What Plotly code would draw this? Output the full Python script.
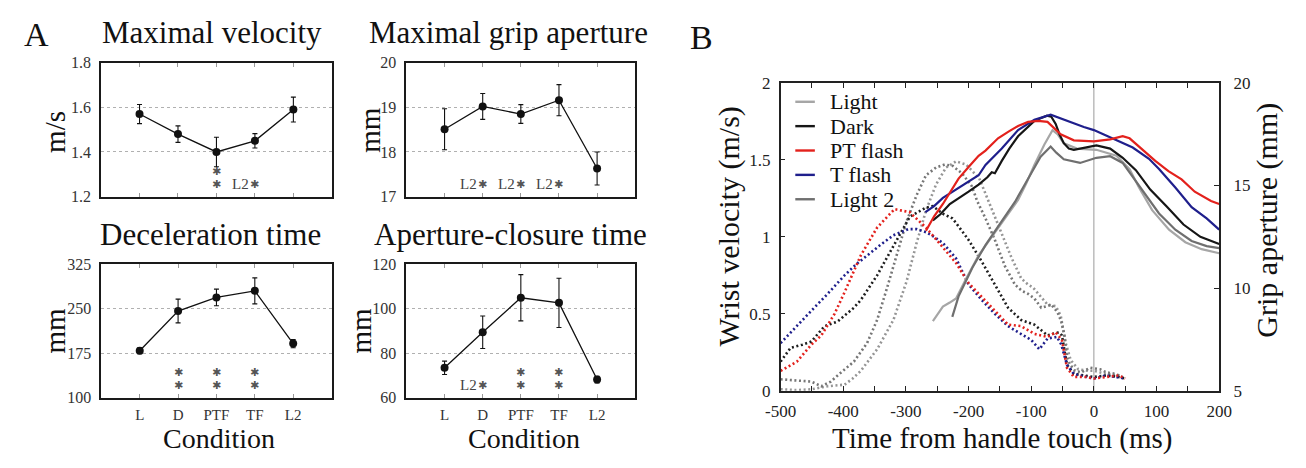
import plotly.graph_objects as go

W, H = 1306, 468
SERIF = "Liberation Serif, Times New Roman, serif"

# ---------------- Panel A: condition means with error bars ----------------
conditions = ["L", "D", "PTF", "TF", "L2"]
cond_pos = [1, 2, 3, 4, 5]

max_velocity = [1.57, 1.48, 1.40, 1.45, 1.59]
max_velocity_err = [0.043, 0.037, 0.066, 0.032, 0.056]
max_grip = [18.51, 19.02, 18.85, 19.16, 17.63]
max_grip_err = [0.46, 0.29, 0.21, 0.35, 0.37]
decel_time = [179, 246, 269, 280, 191]
decel_time_err = [5, 20, 14, 22, 7]
closure_time = [73.4, 89.4, 104.9, 102.6, 68.1]
closure_time_err = [3.0, 7.3, 10.4, 11.1, 1.5]

vel_ticks = [1.2, 1.4, 1.6, 1.8]
grip_ticks = [17, 18, 19, 20]
decel_ticks = [100, 175, 250, 325]
closure_ticks = [60, 80, 100, 120]

# ---------------- Panel B: time courses ----------------
time_ticks = [-500, -400, -300, -200, -100, 0, 100, 200]
vel_axis_ticks = [0, 0.5, 1, 1.5, 2]
aperture_ticks = [5, 10, 15, 20]

# wrist velocity (m/s), dotted
light_vel_t = [-500, -475, -451, -425, -398, -385, -372, -346, -320, -299, -283, -268, -252, -236,
               -220, -204, -183, -173, -163, -147, -131, -116, -105, -97, -89, -74, -61, -53, -45,
               -37, -25, -10, 0, 20, 40, 50]
light_vel = [0.01, 0.005, 0.01, 0.03, 0.04, 0.08, 0.13, 0.27, 0.46, 0.71, 0.96, 1.17, 1.34, 1.45,
             1.49, 1.47, 1.38, 1.28, 1.19, 1.02, 0.86, 0.73, 0.69, 0.67, 0.63, 0.56, 0.55, 0.49, 0.31,
             0.2, 0.14, 0.13, 0.13, 0.11, 0.10, 0.07]
dark_vel_t = [-500, -484, -465, -451, -430, -409, -383, -372, -346, -320, -294, -268, -257, -241,
              -226, -220, -200, -179, -158, -137, -116, -95, -74, -56, -51, -43, -32, -12, 0, 20, 40, 50]
dark_vel = [0.19, 0.28, 0.30, 0.32, 0.42, 0.45, 0.54, 0.59, 0.75, 0.94, 1.13, 1.19, 1.2, 1.15,
            1.12, 1.09, 0.98, 0.84, 0.69, 0.54, 0.46, 0.43, 0.36, 0.38, 0.36, 0.17, 0.11, 0.10, 0.09,
            0.10, 0.09, 0.08]
pt_vel_t = [-500, -474, -451, -435, -414, -398, -372, -346, -330, -318, -294, -268, -247, -220,
            -200, -179, -158, -137, -116, -95, -74, -61, -51, -43, -32, -12, 0, 20, 40, 50]
pt_vel = [0.13, 0.19, 0.30, 0.36, 0.50, 0.64, 0.88, 1.06, 1.13, 1.18, 1.16, 1.06, 0.96, 0.83,
          0.70, 0.61, 0.52, 0.43, 0.42, 0.37, 0.35, 0.38, 0.33, 0.15, 0.09, 0.09, 0.08, 0.09, 0.10, 0.08]
t_vel_t = [-500, -475, -451, -425, -398, -380, -362, -340, -320, -296, -283, -268, -255, -241, -220,
           -200, -179, -158, -137, -116, -100, -87, -74, -59, -52, -43, -32, -12, 0, 20, 35, 50]
t_vel = [0.31, 0.42, 0.52, 0.63, 0.75, 0.82, 0.88, 0.95, 1.01, 1.05, 1.05, 1.03, 1.0, 0.96, 0.86,
         0.69, 0.59, 0.50, 0.42, 0.37, 0.33, 0.27, 0.34, 0.35, 0.30, 0.17, 0.11, 0.09, 0.08, 0.10,
         0.09, 0.08]
light2_vel_t = [-500, -475, -451, -435, -420, -409, -383, -362, -346, -330, -315, -299, -283, -268,
                -252, -238, -225, -210, -195, -186, -173, -158, -142, -126, -115, -105, -95, -84,
                -75, -68, -58, -52, -47, -43, -38, -30, -20, -6, 10, 20, 35, 50]
light2_vel = [0.075, 0.065, 0.06, 0.03, 0.06, 0.10, 0.19, 0.31, 0.46, 0.67, 0.88, 1.10, 1.27, 1.40,
              1.45, 1.47, 1.46, 1.41, 1.33, 1.23, 1.12, 0.98, 0.81, 0.69, 0.65, 0.63, 0.60, 0.54,
              0.55, 0.56, 0.51, 0.45, 0.36, 0.22, 0.17, 0.13, 0.12, 0.15, 0.14, 0.12, 0.11, 0.08]

# grip aperture (mm), solid
light_ap_t = [-257, -248, -241, -230, -220, -205, -184, -163, -147, -121, -108, -95, -79, -66, -58,
              -48, -27, 4, 36, 57, 72, 93, 120, 146, 172, 200]
light_ap = [8.4, 8.8, 9.1, 9.3, 9.5, 10.4, 11.6, 12.5, 13.2, 14.3, 15.1, 16.0, 17.0, 17.7, 17.5,
            17.06, 16.8, 16.74, 16.45, 15.8, 14.9, 13.8, 12.85, 12.24, 11.9, 11.7]
dark_ap_t = [-257, -245, -230, -216, -200, -184, -170, -163, -158, -147, -135, -121, -108, -95, -75,
             -68, -61, -55, -48, -40, -32, -16, 4, 26, 46, 67, 90, 117, 143, 170, 200]
dark_ap = [13.3, 13.6, 14.1, 14.4, 14.7, 15.04, 15.4, 15.65, 15.6, 16.2, 16.8, 17.4, 17.8, 18.15, 18.4,
           18.35, 18.0, 17.5, 17.06, 16.8, 16.74, 16.82, 16.95, 16.8, 16.35, 15.75, 14.8, 13.95, 13.1,
           12.5, 12.15]
pt_ap_t = [-268, -255, -241, -216, -200, -184, -173, -153, -135, -121, -105, -89, -74, -63, -53, -32,
           0, 26, 46, 57, 72, 98, 119, 140, 161, 187, 200]
pt_ap = [12.8, 13.5, 14.1, 15.34, 15.9, 16.45, 16.7, 17.3, 17.65, 17.9, 18.1, 18.15, 18.1, 17.8, 17.5,
         17.2, 17.15, 17.25, 17.4, 17.3, 16.9, 16.2, 15.7, 15.3, 14.7, 14.25, 14.1]
t_ap_t = [-269, -255, -241, -216, -200, -184, -173, -160, -147, -121, -95, -69, -48, -16, 0, 15, 36,
          62, 88, 104, 130, 156, 180, 200]
t_ap = [13.7, 14.0, 14.4, 14.87, 15.2, 15.5, 16.0, 16.4, 16.8, 17.7, 18.2, 18.45, 18.2, 17.85, 17.7,
        17.5, 17.2, 16.85, 16.3, 15.8, 14.9, 13.95, 13.4, 12.85]
light2_ap_t = [-226, -216, -194, -173, -153, -126, -100, -85, -69, -60, -48, -22, 4, 26, 46, 67, 83,
               104, 130, 156, 180, 200]
light2_ap = [8.6, 9.6, 11.0, 12.1, 13.0, 14.2, 15.6, 16.4, 16.9, 16.6, 16.28, 16.1, 16.35, 16.43, 16.1,
             15.2, 14.5, 13.64, 12.85, 12.3, 12.05, 11.95]

series_names = ["Light", "Dark", "PT flash", "T flash", "Light 2"]
series_colors = ["#a6a6a6", "#161616", "#e3211c", "#1f1f8c", "#6f6f6f"]
dotted_colors = ["#959595", "#1e1e1e", "#e3211c", "#1f1f8c", "#767676"]


def fx(x):
    return x / W


def fy(y):
    return 1 - y / H


fig = go.Figure()
annotations = []
shapes = []

panels = [
    dict(title="Maximal velocity", ytitle="m/s", vals=max_velocity, errs=max_velocity_err,
         ticks=vel_ticks, xcol=(87, 323), yrow=(56, 195.5), title_xy=(200, 25), ytitle_xy=(40, 128),
         marks=[(3, "**"), (4, "L2*")], xlabels=False),
    dict(title="Maximal grip aperture", ytitle="mm", vals=max_grip, errs=max_grip_err,
         ticks=grip_ticks, xcol=(399.3, 633.3), yrow=(56, 195.5), title_xy=(504, 25),
         ytitle_xy=(362, 126), marks=[(2, "L2*"), (3, "L2*"), (4, "L2*")], xlabels=False),
    dict(title="Deceleration time", ytitle="mm", vals=decel_time, errs=decel_time_err,
         ticks=decel_ticks, xcol=(87.3, 322.7), yrow=(266, 405), title_xy=(199, 235),
         ytitle_xy=(40, 335), marks=[(2, "**"), (3, "**"), (4, "**")], xlabels=True),
    dict(title="Aperture-closure time", ytitle="mm", vals=closure_time, errs=closure_time_err,
         ticks=closure_ticks, xcol=(399.3, 633.3), yrow=(266, 405), title_xy=(506, 235),
         ytitle_xy=(353, 335), marks=[(2, "L2*"), (3, "**"), (4, "**")], xlabels=True),
]

layout_axes = {}
STAR = "\u2731"
for i, p in enumerate(panels, start=1):
    k = "" if i == 1 else str(i)
    fig.add_trace(go.Scatter(
        x=cond_pos, y=p["vals"], mode="lines+markers",
        error_y=dict(type="data", array=p["errs"], color="#111", thickness=1.1, width=2.5),
        line=dict(color="#111", width=1.3), marker=dict(color="#111", size=8),
        xaxis="x" + k, yaxis="y" + k, cliponaxis=False, hoverinfo="skip"))
    xaxis = dict(
        domain=[fx(p["xcol"][0]), fx(p["xcol"][1])], range=[0, 6], anchor="y" + k,
        tickvals=cond_pos, ticks="inside", ticklen=4, tickcolor="#999", mirror="ticks",
        showline=True, linecolor="#1a1a1a", linewidth=1.8, showgrid=False, zeroline=False,
        tickfont=dict(family=SERIF, size=15, color="#333"), ticklabelstandoff=3)
    if p["xlabels"]:
        xaxis["ticktext"] = conditions
    else:
        xaxis["showticklabels"] = False
    layout_axes["xaxis" + k] = xaxis
    layout_axes["yaxis" + k] = dict(
        domain=[fy(p["yrow"][1]), fy(p["yrow"][0])], range=[p["ticks"][0], p["ticks"][-1]],
        anchor="x" + k, tickvals=p["ticks"], ticks="", showline=True, mirror=True,
        linecolor="#1a1a1a", linewidth=1.8, showgrid=True, gridcolor="#b0b0b0", griddash="dot",
        gridwidth=1, zeroline=False, tickfont=dict(family=SERIF, size=16, color="#333"),
        ticklabelstandoff=5)
    annotations.append(dict(text=p["title"], x=fx(p["title_xy"][0]), y=fy(p["title_xy"][1]),
                            xref="paper", yref="paper", showarrow=False, xanchor="center",
                            yanchor="middle", font=dict(family=SERIF, size=31, color="#111")))
    annotations.append(dict(text=p["ytitle"], x=fx(p["ytitle_xy"][0]), y=fy(p["ytitle_xy"][1]),
                            xref="paper", yref="paper", showarrow=False, textangle=-90,
                            xanchor="center", yanchor="middle",
                            font=dict(family=SERIF, size=29, color="#111")))
    # significance marks: stacked asterisks, or "L2*" for a difference from L2
    for cat, kind in p["marks"]:
        rows = [0.185, 0.091] if kind == "**" else [0.091]
        for r in rows:
            annotations.append(dict(text=STAR, x=cat, y=r, xref="x" + k, yref="y" + k + " domain",
                                    showarrow=False, xanchor="center", yanchor="middle",
                                    borderpad=0,
                                    font=dict(family="DejaVu Sans", size=11, color="#555")))
        if kind == "L2*":
            annotations.append(dict(text="L2", x=cat, y=0.091, xref="x" + k,
                                    yref="y" + k + " domain", showarrow=False, xanchor="right",
                                    yanchor="middle", xshift=-5, borderpad=0,
                                    font=dict(family=SERIF, size=15, color="#444")))
    if p["xlabels"]:
        annotations.append(dict(text="Condition", x=fx(208 if i == 3 else 520), y=fy(448),
                                xref="paper", yref="paper", showarrow=False,
                                xanchor="center", yanchor="middle",
                                font=dict(family=SERIF, size=28, color="#111")))

# panel letters
for letter, (lx, ly) in [("A", (21, 27)), ("B", (701, 30))]:
    annotations.append(dict(text=letter, x=fx(lx), y=fy(ly), xref="paper", yref="paper",
                            showarrow=False, xanchor="center", yanchor="middle",
                            font=dict(family=SERIF, size=34, color="#111")))

# ---------------- Panel B traces ----------------
vel_series = [(light_vel_t, light_vel), (dark_vel_t, dark_vel), (pt_vel_t, pt_vel),
              (t_vel_t, t_vel), (light2_vel_t, light2_vel)]
ap_series = [(light_ap_t, light_ap), (dark_ap_t, dark_ap), (pt_ap_t, pt_ap),
             (t_ap_t, t_ap), (light2_ap_t, light2_ap)]

for idx in [0, 4, 1, 3, 2]:
    t, v = vel_series[idx]
    fig.add_trace(go.Scatter(x=t, y=v, mode="lines", name=series_names[idx],
                             line=dict(color=dotted_colors[idx], width=2.6, dash="2px,2.6px"),
                             xaxis="x5", yaxis="y5", hoverinfo="skip"))
for idx in [0, 4, 1, 3, 2]:
    t, v = ap_series[idx]
    fig.add_trace(go.Scatter(x=t, y=v, mode="lines", name=series_names[idx],
                             line=dict(color=series_colors[idx], width=2.2),
                             xaxis="x5", yaxis="y6", hoverinfo="skip"))

# labelled ticks every 100 ms, minor ticks in between
layout_axes["xaxis5"] = dict(
    domain=[fx(782), fx(1230.5)], range=[-500, 200], anchor="y5",
    tickvals=time_ticks, ticktext=[str(t) for t in time_ticks],
    ticks="inside", ticklen=5, tickcolor="#222", mirror="ticks", showline=True,
    minor=dict(tick0=-450, dtick=100, ticks="inside", ticklen=5, tickcolor="#222", showgrid=False),
    linecolor="#222", linewidth=1.6, showgrid=False, zeroline=False,
    tickfont=dict(family=SERIF, size=17, color="#222"), ticklabelstandoff=4)
layout_axes["yaxis5"] = dict(
    domain=[fy(398), fy(77)], range=[0, 2], anchor="x5", tickvals=vel_axis_ticks,
    ticktext=["0", "0.5", "1", "1.5", "2"], ticks="inside", ticklen=5, tickcolor="#222",
    showline=True, linecolor="#222", linewidth=1.6, showgrid=False, zeroline=False,
    tickfont=dict(family=SERIF, size=17, color="#222"), ticklabelstandoff=5)
layout_axes["yaxis6"] = dict(
    overlaying="y5", side="right", range=[5, 20], anchor="x5", tickvals=aperture_ticks,
    ticks="inside", ticklen=5, tickcolor="#222", showline=True, linecolor="#222",
    linewidth=1.6, showgrid=False, zeroline=False,
    tickfont=dict(family=SERIF, size=17, color="#222"), ticklabelstandoff=9)

shapes.append(dict(type="line", xref="x5", yref="y5 domain", x0=0, x1=0, y0=0, y1=1,
                   line=dict(color="#9a9a9a", width=1), layer="below"))

annotations.append(dict(text="Wrist velocity (m/s)", x=fx(729), y=fy(227), xref="paper",
                        yref="paper", showarrow=False, textangle=-90, xanchor="center",
                        yanchor="middle", font=dict(family=SERIF, size=30, color="#111")))
annotations.append(dict(text="Grip aperture (mm)", x=fx(1279), y=fy(220), xref="paper",
                        yref="paper", showarrow=False, textangle=-90, xanchor="center",
                        yanchor="middle", font=dict(family=SERIF, size=30, color="#111")))
annotations.append(dict(text="Time from handle touch (ms)", x=fx(1008), y=fy(448), xref="paper",
                        yref="paper", showarrow=False, xanchor="center", yanchor="middle",
                        font=dict(family=SERIF, size=29, color="#111")))

# legend drawn as short line samples with labels
for i, (name, color) in enumerate(zip(series_names, series_colors)):
    yy = 96.7 + 25.4 * i
    shapes.append(dict(type="line", xref="paper", yref="paper", x0=fx(797), x1=fx(817),
                       y0=fy(yy), y1=fy(yy), line=dict(color=color, width=2.4)))
    annotations.append(dict(text=name, x=fx(830), y=fy(yy), xref="paper", yref="paper",
                            showarrow=False, xanchor="left", yanchor="middle",
                            font=dict(family=SERIF, size=22, color="#111")))

fig.update_layout(width=W, height=H, margin=dict(l=0, r=0, t=0, b=0),
                  paper_bgcolor="white", plot_bgcolor="white", showlegend=False,
                  font=dict(family=SERIF, color="#222"),
                  annotations=annotations, shapes=shapes, **layout_axes)

# the page body carries no margin so the figure fills the window exactly
fig.write_html("out.html",
               post_script="document.body.style.margin='0';document.body.style.overflow='hidden';")
